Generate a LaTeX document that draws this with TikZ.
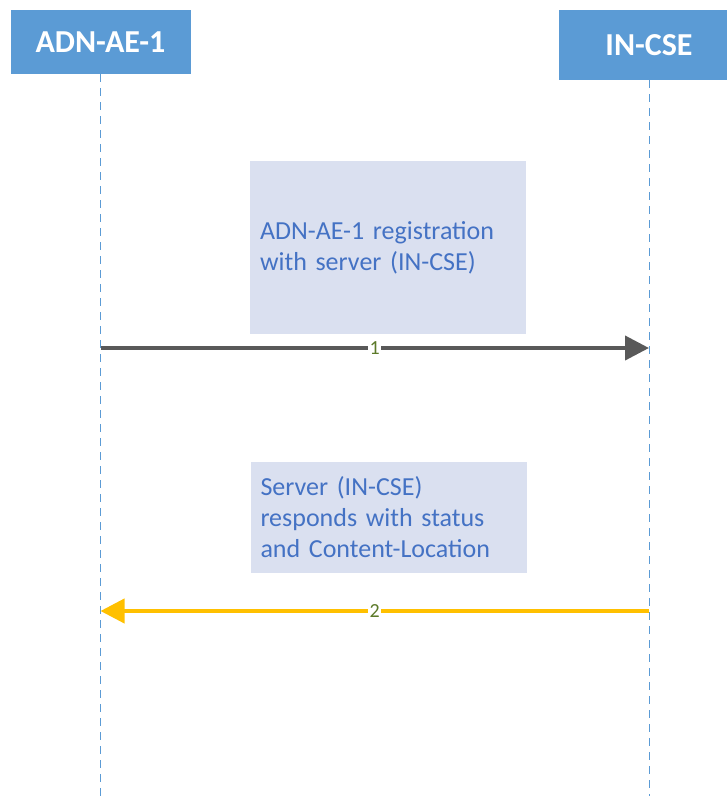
\documentclass[tikz,border=0pt]{standalone}
\usepackage{fontspec}
\setmainfont{Carlito}
\usetikzlibrary{arrows.meta}
\definecolor{headblue}{HTML}{5B9BD5}
\definecolor{notefill}{HTML}{DAE0F0}
\definecolor{notetext}{HTML}{4472C4}
\definecolor{msggray}{HTML}{595959}
\definecolor{msgyellow}{HTML}{FFC000}
\definecolor{numgreen}{HTML}{5C7A29}

\begin{document}
\begin{tikzpicture}[x=0.75pt,y=-0.75pt,
    actor/.style={fill=headblue, text=white, inner sep=0pt, minimum width=135pt, font=\fontsize{24}{28}\selectfont\bfseries},
    note/.style={fill=notefill, text=notetext, align=left, inner xsep=7.5pt, text width=192pt, font=\fontsize{19.5}{23.25}\selectfont},
    lifeline/.style={headblue, line width=0.75pt, dash pattern=on 6pt off 4.5pt},
    msg/.style={line width=3pt, -{Triangle[length=18pt,width=18pt]}},
    num/.style={fill=white, text=numgreen, inner sep=1pt, font=\fontsize{15}{18}\selectfont}]
    \useasboundingbox (0,0) rectangle (727,796);
    \clip (0,0) rectangle (727,796);

    \path
    node[actor, minimum height=48pt] (ae) at (100.5,42) {ADN-AE-1}
    node[actor, minimum height=52.5pt] (cse) at (649,45) {IN-CSE}
    node[note, minimum height=129.75pt] (reg) at (388,247.5) {ADN-AE-1 registration\\with server (IN-CSE)}
    node[note, minimum height=83.25pt] (resp) at (388.5,517.5) {Server (IN-CSE)\\responds with status\\and Content-Location};

    % points on the lifelines
    \coordinate (ae-end) at (ae.south |- 0,796);
    \coordinate (cse-end) at (cse.south |- 0,796);
    \coordinate (a1) at (ae.south |- 0,348);
    \coordinate (c1) at (cse.south |- 0,348);
    \coordinate (a2) at (ae.south |- 0,611);
    \coordinate (c2) at (cse.south |- 0,611);

    \path
    (ae.south) edge[lifeline] (ae-end)
    (cse.south) edge[lifeline] (cse-end)
    (a1) edge[msg, msggray] node[num] {1} (c1)
    (c2) edge[msg, msgyellow] node[num] {2} (a2);
\end{tikzpicture}
\end{document}
